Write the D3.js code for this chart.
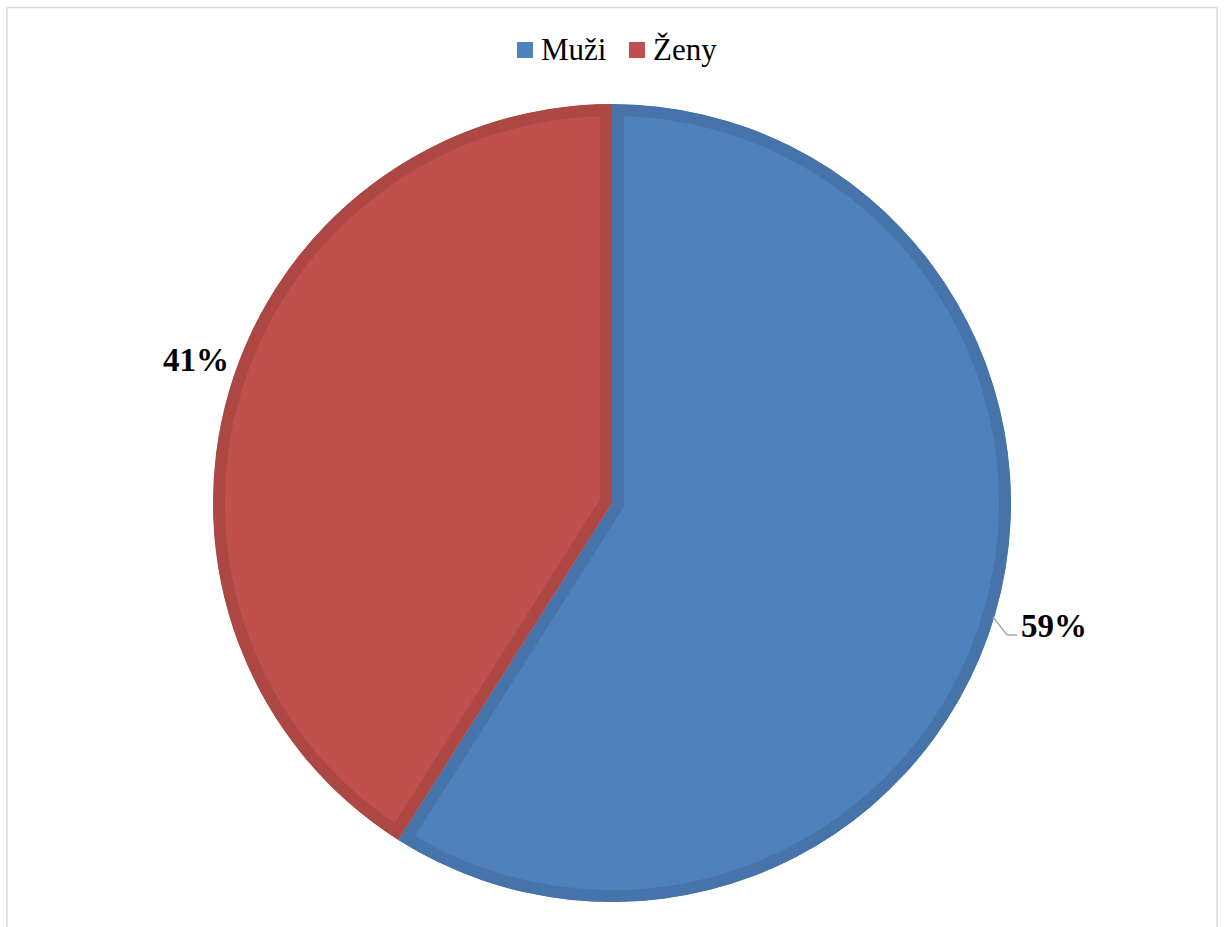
<!DOCTYPE html>
<html>
<head>
<meta charset="utf-8">
<script src="https://cdn.jsdelivr.net/npm/d3@7"></script>
<style>
  html, body { margin: 0; padding: 0; background: #ffffff; }
  svg { display: block; }
</style>
</head>
<body>
<script>
// Gender split of respondents
const categories = ["Muži", "Ženy"];
const values = [59, 41];
const labels = ["59%", "41%"];
const fills = ["#4F81BD", "#C0504D"];
const edges = ["#4673AA", "#AD4744"];

const W = 1224, H = 927;
const cx = 612, cy = 503, R = 399;

const svg = d3.select("body").append("svg")
  .attr("width", W).attr("height", H);

// outer chart frame
svg.append("rect")
  .attr("x", 7).attr("y", 7.5)
  .attr("width", 1210).attr("height", 960)
  .attr("fill", "none").attr("stroke", "#d9d9d9").attr("stroke-width", 1.5);

const pie = d3.pie().sort(null).value(d => d)(values);
const arc = d3.arc().innerRadius(0).outerRadius(R);

const g = svg.append("g").attr("transform", `translate(${cx},${cy})`);
const defs = svg.append("defs");

pie.forEach((p, i) => {
  defs.append("clipPath").attr("id", "slice-clip-" + i)
    .append("path").attr("d", arc(p));
  g.append("path")
    .attr("d", arc(p))
    .attr("fill", fills[i])
    .attr("stroke", edges[i])
    .attr("stroke-width", 24)
    .attr("stroke-linejoin", "miter")
    .attr("clip-path", `url(#slice-clip-${i})`);
});

// data labels
const font = "'Liberation Serif', 'Times New Roman', serif";
// Muži label with leader line
const a0 = (pie[0].startAngle + pie[0].endAngle) / 2;
svg.append("polyline")
  .attr("points", [[993, 617], [1007, 635], [1017, 635]].map(p => p.join(",")).join(" "))
  .attr("fill", "none").attr("stroke", "#a6a6a6").attr("stroke-width", 1.3);
svg.append("text")
  .attr("x", 1021).attr("y", 637)
  .attr("font-family", font).attr("font-weight", "bold").attr("font-size", 33)
  .attr("fill", "#000").text(labels[0]);
svg.append("text")
  .attr("x", 163).attr("y", 371)
  .attr("font-family", font).attr("font-weight", "bold").attr("font-size", 33)
  .attr("fill", "#000").text(labels[1]);

// legend
const legendX = [517, 629];
categories.forEach((c, i) => {
  svg.append("rect")
    .attr("x", legendX[i]).attr("y", 42)
    .attr("width", 16).attr("height", 16)
    .attr("fill", fills[i]);
  svg.append("text")
    .attr("x", legendX[i] + 24).attr("y", 60)
    .attr("font-family", font).attr("font-size", 31)
    .attr("fill", "#000").text(c);
});
</script>
</body>
</html>
